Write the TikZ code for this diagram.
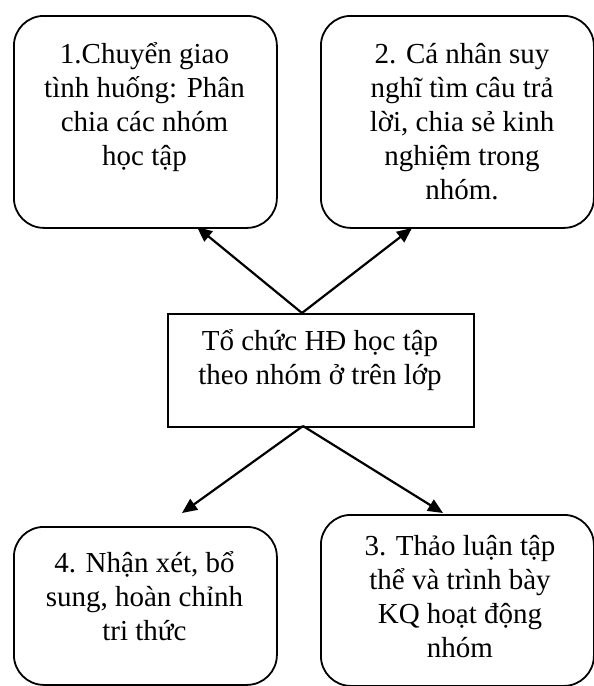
\documentclass[tikz,border=0pt]{standalone}
\usepackage{fontspec}
\setmainfont{Liberation Serif}
\usetikzlibrary{arrows.meta}
\begin{document}
\begin{tikzpicture}[x=1pt,y=-1pt,
  panel/.style={draw, line width=1.8pt, rounded corners=30pt, anchor=north west, inner sep=0pt},
  hub/.style={draw, line width=1.8pt, anchor=north west, inner sep=0pt},
  % anchor=base sits on the baseline of the last line of a multi-line node
  txt/.style={align=center, inner sep=0pt, anchor=base, font=\fontsize{29}{34}\selectfont},
  link/.style={line width=2.2pt, -{Triangle[length=15pt,width=13pt]}}
]
\useasboundingbox (0,0) rectangle (594,686);

% frames
\node[panel, minimum width=263pt, minimum height=212pt] (tl) at (13,15) {};
\node[panel, minimum width=273pt, minimum height=212pt] (tr) at (320,15) {};
\node[hub,   minimum width=306pt, minimum height=113pt] (mid) at (167,313) {};
\node[panel, minimum width=263pt, minimum height=158pt] (bl) at (13,526) {};
\node[panel, minimum width=273pt, minimum height=171pt] (br) at (320,514) {};

% texts
\node[txt] (tlText) at (144.5,165) {1.Chuyển giao\\tình huống: Phân\\chia các nhóm\\học tập};
\node[txt] (trText) at (462,199) {2. Cá nhân suy\\nghĩ tìm câu trả\\lời, chia sẻ kinh\\nghiệm trong\\nhóm.};
\node[txt] (midText) at (320,384) {Tổ chức HĐ học tập\\theo nhóm ở trên lớp};
\node[txt] (blText) at (144.5,640) {4. Nhận xét, bổ\\sung, hoàn chỉnh\\tri thức};
\node[txt] (brText) at (460,657) {3. Thảo luận tập\\thể và trình bày\\KQ hoạt động\\nhóm};

% connector ends
\coordinate (hubN) at (302,313);
\coordinate (hubS) at (303,426);
\coordinate (tlIn) at (197,227);
\coordinate (trIn) at (412,228);
\coordinate (blIn) at (182,513);
\coordinate (brIn) at (443,513);

\draw[link] (hubN) -- (tlIn);
\draw[link] (hubN) -- (trIn);
\draw[link] (hubS) -- (blIn);
\draw[link] (hubS) -- (brIn);
\end{tikzpicture}
\end{document}
